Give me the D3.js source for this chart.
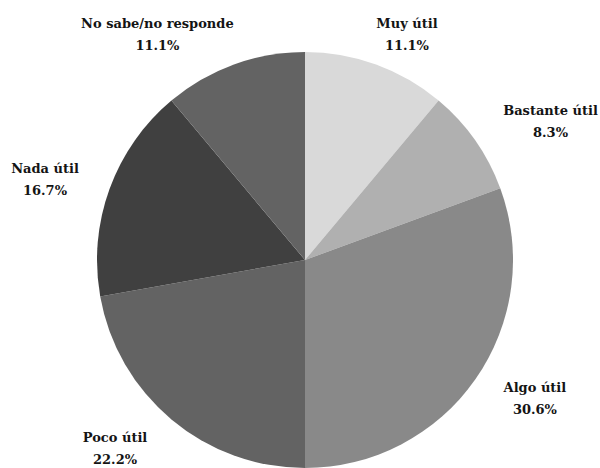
<!DOCTYPE html>
<html>
<head>
<meta charset="utf-8">
<script src="https://cdn.jsdelivr.net/npm/d3@7"></script>
<style>
  body { margin: 0; background: #fff; }
  text { font-family: "DejaVu Serif", serif; font-weight: bold; font-size: 13px; fill: #141414; }
</style>
</head>
<body>
<div id="pie_chart"></div>
<script>
// categories, clockwise from 12 o'clock
var labels = ["Muy útil", "Bastante útil", "Algo útil", "Poco útil", "Nada útil", "No sabe/no responde"];
var percents = [11.1, 8.3, 30.6, 22.2, 16.7, 11.1];
var colors = ["#d9d9d9", "#b0b0b0", "#898989", "#636363", "#404040", "#636363"];

var width = 600, height = 468;
var cx = 305, cy = 260, radius = 208;
var labelRadius = 230,   // where the label box is hung off the mid angle
    tangentDist = 218,   // min distance of a clamped box corner from centre
    topLimit = 14;       // box top can't go above this

var data = labels.map(function(d, i) { return {label: d, value: percents[i], color: colors[i]}; });

var svg = d3.select("#pie_chart")
  .append("svg")
    .attr("width", width)
    .attr("height", height);

var g = svg.append("g")
    .attr("transform", "translate(" + cx + "," + cy + ")");

var pie = d3.pie()
    .sort(null)
    .value(function(d) { return d.value; });

var arc = d3.arc()
    .innerRadius(0)
    .outerRadius(radius);

var arcs = pie(data);

g.selectAll("path")
  .data(arcs)
  .enter()
  .append("path")
    .attr("d", arc)
    .attr("fill", function(d) { return d.data.color; });

// labels outside the pie
var lab = g.selectAll(".lab")
  .data(arcs)
  .enter()
  .append("g")
    .attr("class", "lab");

lab.append("text")
    .attr("class", "name")
    .style("text-anchor", "middle")
    .text(function(d) { return d.data.label; });
lab.append("text")
    .attr("class", "pct")
    .style("text-anchor", "middle")
    .text(function(d) { return d.data.value.toFixed(1) + "%"; });

lab.each(function(d) {
    var node = d3.select(this);
    var w = Math.max(node.select(".name").node().getComputedTextLength(),
                     node.select(".pct").node().getComputedTextLength());
    var h = 40;
    var mid = (d.startAngle + d.endAngle) / 2;
    var px = Math.sin(mid) * labelRadius,
        py = -Math.cos(mid) * labelRadius;
    var dx = px < 0 ? -w / 2 : w / 2,
        dy = py < 0 ? -h / 2 : h / 2;
    var lx = px + dx + (dx > 0 ? 1 : -1) * Math.abs(dy) / 2,
        ly = py + dy / (1 + px * px / (py * py));

    // keep inside the top of the picture, then slide in to sit on the pie
    if (cy + ly - h / 2 < topLimit) {
        ly = topLimit - cy + h / 2;
        var yb = Math.abs(ly) - h / 2;
        var xc = Math.sqrt(Math.max(0, tangentDist * tangentDist - yb * yb));
        lx = (px < 0 ? -1 : 1) * (xc + w / 2);
    }

    node.select(".name").attr("x", lx).attr("y", ly - 6);
    node.select(".pct").attr("x", lx).attr("y", ly + 16);
});
</script>
</body>
</html>
